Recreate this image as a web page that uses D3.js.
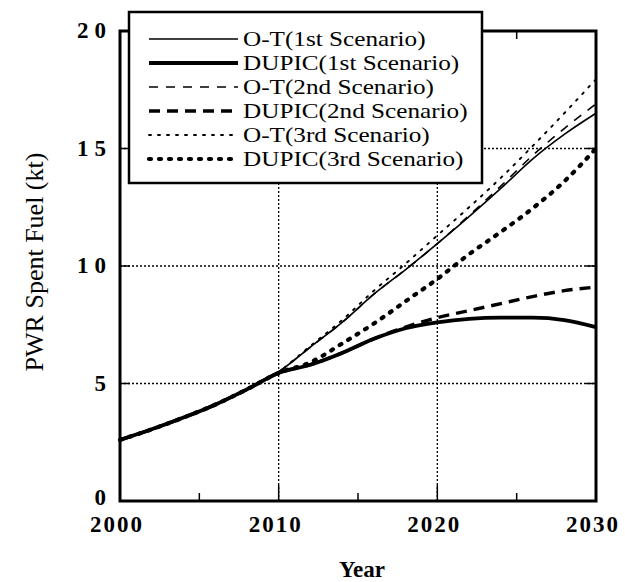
<!DOCTYPE html>
<html>
<head>
<meta charset="utf-8">
<script src="https://cdn.jsdelivr.net/npm/d3@7"></script>
<style>
  body { margin: 0; background: #fff; }
  text { font-family: "Liberation Serif", "DejaVu Serif", serif; fill: #000; }
</style>
</head>
<body>
<div id="chart"></div>
<script>
// data
const years = [2000, 2002, 2004, 2006, 2008, 2010, 2012, 2014, 2016, 2018, 2020, 2022, 2024, 2026, 2028, 2030];

const otFirst    = [2.6, 3.05, 3.55, 4.1, 4.75, 5.5, 6.55, 7.6, 8.8, 9.85, 10.95, 12.1, 13.3, 14.55, 15.6, 16.5];
const dupicFirst = [2.6, 3.05, 3.55, 4.1, 4.75, 5.45, 5.8, 6.3, 6.9, 7.35, 7.6, 7.75, 7.8, 7.8, 7.7, 7.4];
const otSecond   = [2.6, 3.05, 3.55, 4.1, 4.75, 5.5, 6.55, 7.6, 8.8, 9.85, 10.95, 12.15, 13.4, 14.7, 15.85, 16.9];
const dupicSecond= [2.6, 3.05, 3.55, 4.1, 4.75, 5.45, 5.8, 6.3, 6.9, 7.4, 7.8, 8.1, 8.4, 8.7, 8.95, 9.1];
const otThird    = [2.6, 3.05, 3.55, 4.1, 4.75, 5.5, 6.6, 7.7, 8.95, 10.1, 11.3, 12.5, 13.75, 15.1, 16.5, 17.95];
const dupicThird = [2.6, 3.05, 3.55, 4.1, 4.75, 5.45, 5.9, 6.7, 7.55, 8.5, 9.45, 10.5, 11.45, 12.45, 13.6, 15.0];

const seriesNames = ['O-T(1st Scenario)', 'DUPIC(1st Scenario)', 'O-T(2nd Scenario)',
  'DUPIC(2nd Scenario)', 'O-T(3rd Scenario)', 'DUPIC(3rd Scenario)'];
const seriesValues = [otFirst, dupicFirst, otSecond, dupicSecond, otThird, dupicThird];

const xTicks = [2000, 2010, 2020, 2030];
const xMinor = [2005, 2015, 2025];
const yTicks = [0, 5, 10, 15, 20];

// line styles: width, dasharray, cap
const styles = [
  { w: 1.6, dash: null, cap: 'butt' },
  { w: 3.8, dash: null, cap: 'butt' },
  { w: 1.6, dash: '9,8', cap: 'butt' },
  { w: 3.4, dash: '11,7', cap: 'butt' },
  { w: 1.9, dash: '2,7', cap: 'round' },
  { w: 4.2, dash: '2,8', cap: 'round' }
];

const w = 625, h = 582;
const pLeft = 120, pRight = 596, pTop = 31, pBottom = 501;

const svg = d3.select('#chart').append('svg')
  .attr('width', w)
  .attr('height', h);

const xScale = d3.scaleLinear().domain([2000, 2030]).range([pLeft, pRight]);
const yScale = d3.scaleLinear().domain([0, 20]).range([pBottom, pTop]);

// grid (dotted)
svg.append('g').selectAll('line.vg')
  .data([2010, 2020]).enter().append('line')
  .attr('x1', d => xScale(d)).attr('x2', d => xScale(d))
  .attr('y1', pTop).attr('y2', pBottom)
  .attr('stroke', '#000').attr('stroke-width', 1.3).attr('stroke-dasharray', '2,2');

svg.append('g').selectAll('line.hg')
  .data([5, 10, 15]).enter().append('line')
  .attr('x1', pLeft).attr('x2', pRight)
  .attr('y1', d => yScale(d)).attr('y2', d => yScale(d))
  .attr('stroke', '#000').attr('stroke-width', 1.3).attr('stroke-dasharray', '2,2');

// ticks inside the frame
const tickG = svg.append('g').attr('stroke', '#000').attr('stroke-width', 1.5);
xTicks.slice(1, 3).forEach(d => {
  tickG.append('line').attr('x1', xScale(d)).attr('x2', xScale(d)).attr('y1', pBottom).attr('y2', pBottom - 16);
  tickG.append('line').attr('x1', xScale(d)).attr('x2', xScale(d)).attr('y1', pTop).attr('y2', pTop + 16);
});
xMinor.forEach(d => {
  tickG.append('line').attr('x1', xScale(d)).attr('x2', xScale(d)).attr('y1', pBottom).attr('y2', pBottom - 8);
  tickG.append('line').attr('x1', xScale(d)).attr('x2', xScale(d)).attr('y1', pTop).attr('y2', pTop + 8);
});
yTicks.slice(1, 4).forEach(d => {
  tickG.append('line').attr('x1', pLeft).attr('x2', pLeft + 10).attr('y1', yScale(d)).attr('y2', yScale(d));
  tickG.append('line').attr('x1', pRight).attr('x2', pRight - 10).attr('y1', yScale(d)).attr('y2', yScale(d));
});

// the lines
const line = d3.line()
  .x((d, i) => xScale(years[i]))
  .y(d => yScale(d))
  .curve(d3.curveMonotoneX);

svg.append('g').selectAll('path')
  .data(seriesValues).enter().append('path')
  .attr('d', d => line(d))
  .attr('fill', 'none')
  .attr('stroke', '#000')
  .attr('stroke-width', (d, i) => styles[i].w)
  .attr('stroke-dasharray', (d, i) => styles[i].dash)
  .attr('stroke-linecap', (d, i) => styles[i].cap);

// frame
svg.append('rect')
  .attr('x', pLeft).attr('y', pTop)
  .attr('width', pRight - pLeft).attr('height', pBottom - pTop)
  .attr('fill', 'none').attr('stroke', '#000').attr('stroke-width', 3);

// tick labels
svg.append('g').selectAll('text')
  .data(xTicks).enter().append('text')
  .attr('x', d => xScale(d) - 3)
  .attr('y', 532)
  .attr('text-anchor', 'middle')
  .attr('font-size', 23)
  .attr('font-weight', 'bold')
  .attr('letter-spacing', 2)
  .text(d => d);

svg.append('g').selectAll('text')
  .data(yTicks).enter().append('text')
  .attr('x', 112)
  .attr('y', d => yScale(d) + (d === 0 ? 4 : 7))
  .attr('text-anchor', 'end')
  .attr('font-size', 23)
  .attr('font-weight', 'bold')
  .attr('letter-spacing', 6)
  .text(d => d);

// axis titles
svg.append('text')
  .attr('x', 362).attr('y', 577)
  .attr('text-anchor', 'middle')
  .attr('font-size', 23)
  .attr('font-weight', 'bold')
  .text('Year');

svg.append('text')
  .attr('transform', 'translate(43, 262) rotate(-90)')
  .attr('text-anchor', 'middle')
  .attr('font-size', 26)
  .text('PWR Spent Fuel (kt)');

// legend
const legend = svg.append('g');
legend.append('rect')
  .attr('x', 129).attr('y', 12)
  .attr('width', 353).attr('height', 171)
  .attr('fill', '#fff').attr('stroke', '#000').attr('stroke-width', 2.5);

const rowY = d3.scaleLinear().domain([0, 5]).range([39, 159]);

legend.selectAll('line.s')
  .data(seriesNames).enter().append('line')
  .attr('x1', 149).attr('x2', 238)
  .attr('y1', (d, i) => rowY(i)).attr('y2', (d, i) => rowY(i))
  .attr('stroke', '#000')
  .attr('stroke-width', (d, i) => styles[i].w)
  .attr('stroke-dasharray', (d, i) => styles[i].dash)
  .attr('stroke-linecap', (d, i) => styles[i].cap);

// text in the scan is wider than tall, so stretch it sideways
legend.selectAll('g.lt')
  .data(seriesNames).enter().append('g')
  .attr('transform', (d, i) => `translate(243, ${rowY(i) + 7}) scale(1.2, 1)`)
  .append('text')
  .attr('font-size', 21)
  .text(d => d);
</script>
</body>
</html>
